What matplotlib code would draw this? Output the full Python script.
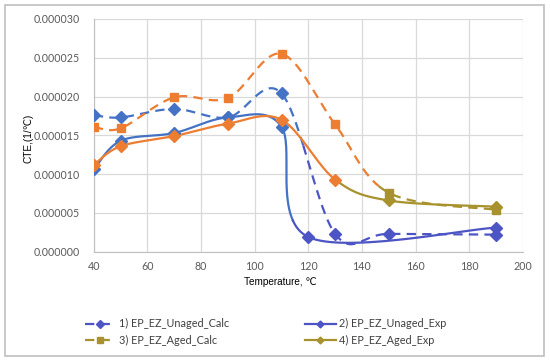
import numpy as np
import matplotlib
matplotlib.use("Agg")
import matplotlib.pyplot as plt
from matplotlib.lines import Line2D
from matplotlib.patches import Rectangle

# Données
temp_calc = [40, 50, 70, 90, 110, 130, 150, 190]
unaged_calc = [1.76e-5, 1.73e-5, 1.84e-5, 1.73e-5, 2.04e-5, 2.3e-6, 2.3e-6, 2.2e-6]
aged_calc = [1.61e-5, 1.59e-5, 1.99e-5, 1.98e-5, 2.55e-5, 1.64e-5, 7.6e-6, 5.4e-6]

temp_unaged_exp = [40, 50, 70, 90, 110, 120, 190]
unaged_exp = [1.06e-5, 1.43e-5, 1.53e-5, 1.73e-5, 1.61e-5, 1.9e-6, 3.1e-6]

temp_aged_exp = [40, 50, 70, 90, 110, 130, 150, 190]
aged_exp = [1.12e-5, 1.36e-5, 1.49e-5, 1.65e-5, 1.70e-5, 9.3e-6, 6.6e-6, 5.8e-6]

labels = ["1) EP_EZ_Unaged_Calc", "2) EP_EZ_Unaged_Exp",
          "3) EP_EZ_Aged_Calc", "4) EP_EZ_Aged_Exp"]

blue = "#4472C4"
orange = "#ED7D31"
purple = "#4D55C4"
olive = "#A8922E"
DASH = (4.2, 2.8)


def smooth(x, y, n=60):
    # lissage type Excel (Bezier / Catmull-Rom)
    p = np.column_stack([x, y]).astype(float)
    out = []
    for i in range(len(p) - 1):
        p0 = p[i - 1] if i > 0 else p[i]
        p1, p2 = p[i], p[i + 1]
        p3 = p[i + 2] if i + 2 < len(p) else p[i + 1]
        c1 = p1 + (p2 - p0) / 6
        c2 = p2 - (p3 - p1) / 6
        t = np.linspace(0, 1, n)[:, None]
        seg = ((1 - t) ** 3 * p1 + 3 * (1 - t) ** 2 * t * c1
               + 3 * (1 - t) * t ** 2 * c2 + t ** 3 * p2)
        out.append(seg if i == 0 else seg[1:])
    s = np.vstack(out)
    return s[:, 0], s[:, 1]


fig = plt.figure(figsize=(5.5, 3.6), dpi=100)
fig.patches.append(Rectangle((5 / 550, 4 / 360), 539 / 550, 351 / 360,
                             transform=fig.transFigure, fill=False,
                             edgecolor="#BFBFBF", lw=1.2))
ax = fig.add_axes([0.1707, 0.3008, 0.7797, 0.6467])

series = [
    (temp_calc, unaged_calc, blue, purple, "--", "D", 118, 120),
    (temp_unaged_exp, unaged_exp, blue, purple, "-", "D", 114, 120),
    (temp_calc, aged_calc, orange, olive, "--", "s", 146, 150),
    (temp_aged_exp, aged_exp, orange, olive, "-", "D", 131, 150),
]

for x, y, c1, c2, ls, mk, split, msplit in series:
    sx, sy = smooth(x, y)
    k = np.argmax(sx > split)
    for xs, ys, col in [(sx[:k + 1], sy[:k + 1], c1), (sx[k:], sy[k:], c2)]:
        ln, = ax.plot(xs, ys, color=col, lw=1.6, zorder=3)
        if ls == "--":
            ln.set_dashes(DASH)
    x = np.array(x)
    y = np.array(y)
    ms = 5.5 if mk == "s" else 6.5
    ax.plot(x[x < msplit], y[x < msplit], ls="none", marker=mk, ms=ms,
            color=c1, mec=c1, zorder=4)
    ax.plot(x[x >= msplit], y[x >= msplit], ls="none", marker=mk, ms=ms,
            color=c2, mec=c2, zorder=4)

ax.set_xlim(40, 200)
ax.set_ylim(0, 3e-5)
ax.set_xticks(np.arange(40, 201, 20))
ax.set_yticks(np.arange(0, 3.01e-5, 5e-6))
ax.set_yticklabels([f"{v:.6f}" for v in np.arange(0, 3.01e-5, 5e-6)])
ax.grid(True, color="#D9D9D9", lw=0.9)
ax.set_axisbelow(True)
for s in ["top", "right"]:
    ax.spines[s].set_visible(False)
for s in ["left", "bottom"]:
    ax.spines[s].set_color("#BFBFBF")
ax.tick_params(axis="y", length=0, labelsize=7.7, labelcolor="#595959", pad=10)
ax.tick_params(axis="x", length=0, labelsize=7.7, labelcolor="#595959", pad=7)
for t in ax.get_xticklabels() + ax.get_yticklabels():
    t.set_family(["Lato", "DejaVu Sans"])

fig.text(29 / 550, 1 - 138 / 360, "CTE,(1/℃)", rotation=90, ha="center",
         va="center", fontsize=7.2, family=["Liberation Sans", "DejaVu Sans"])
fig.text(280 / 550, 1 - 282 / 360, "Temperature, ℃", ha="center", va="center",
         fontsize=7.2, family=["Liberation Sans", "DejaVu Sans"])

h1 = Line2D([], [], color=purple, ls="--", dashes=DASH, lw=1.6,
            marker="D", ms=4)
h2 = Line2D([], [], color=purple, ls="-", lw=1.6, marker="D", ms=3.5)
h3 = Line2D([], [], color=olive, ls="--", dashes=DASH, lw=1.6,
            marker="s", ms=4)
h4 = Line2D([], [], color=olive, ls="-", lw=1.6, marker="D", ms=3.5)

# deux colonnes de légende placées séparément
for hs, labs, x0 in [([h1, h3], [labels[0], labels[2]], 75),
                     ([h2, h4], [labels[1], labels[3]], 295)]:
    leg = fig.legend(hs, labs, loc="center left",
                     bbox_to_anchor=(x0 / 550, 1 - 332 / 360), frameon=False,
                     handlelength=2.9, handletextpad=0.3, labelspacing=0.5,
                     prop={"family": ["Lato", "DejaVu Sans"], "size": 7.8})
    for t in leg.get_texts():
        t.set_color("#404040")

fig.savefig("out.png", dpi=100)
